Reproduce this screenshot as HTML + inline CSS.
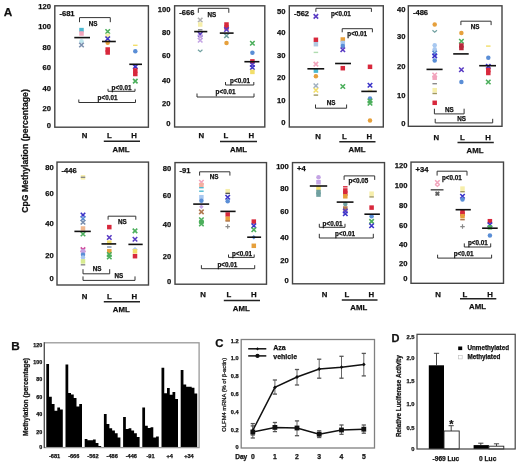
<!DOCTYPE html>
<html><head><meta charset="utf-8"><style>
html,body{margin:0;padding:0;background:#fff;}
svg{display:block;will-change:transform;}
text{font-family:"Liberation Sans", sans-serif;stroke:#111;stroke-width:0.25px;}
</style></head><body>
<svg width="520" height="466" viewBox="0 0 520 466">
<rect width="520" height="466" fill="#fff"/>
<text x="8.00" y="16.43" font-size="11.8" text-anchor="middle" font-weight="bold" fill="#111" >A</text>
<text x="0" y="0" font-size="8.7" font-weight="bold" fill="#111" text-anchor="middle" transform="translate(28.2,151.0) rotate(-90)">CpG Methylation (percentage)</text>
<text x="51.00" y="9.46" font-size="7.6" text-anchor="end" font-weight="bold" fill="#111" >120</text>
<text x="51.00" y="28.96" font-size="7.6" text-anchor="end" font-weight="bold" fill="#111" >100</text>
<text x="51.00" y="49.56" font-size="7.6" text-anchor="end" font-weight="bold" fill="#111" >80</text>
<text x="51.00" y="70.16" font-size="7.6" text-anchor="end" font-weight="bold" fill="#111" >60</text>
<text x="51.00" y="91.36" font-size="7.6" text-anchor="end" font-weight="bold" fill="#111" >40</text>
<text x="51.00" y="111.46" font-size="7.6" text-anchor="end" font-weight="bold" fill="#111" >20</text>
<text x="51.00" y="127.66" font-size="7.6" text-anchor="end" font-weight="bold" fill="#111" >0</text>
<text x="59.40" y="16.16" font-size="7.6" text-anchor="start" font-weight="bold" fill="#111" >-681</text>
<rect x="79.25" y="27.85" width="4.50" height="4.50" fill="#4cb8d0" stroke="none" stroke-width="0"/>
<rect x="79.25" y="31.25" width="4.50" height="4.50" fill="#f2a4bc" stroke="none" stroke-width="0"/>
<circle cx="81.50" cy="41.20" r="2.25" fill="#bfe6ee"/>
<path d="M79.25,42.75L83.75,47.25M83.75,42.75L79.25,47.25" stroke="#7a8fae" stroke-width="1.6"/>
<path d="M105.45,29.25L109.95,33.75M109.95,29.25L105.45,33.75" stroke="#4caf5c" stroke-width="1.6"/>
<rect x="105.45" y="33.55" width="4.50" height="4.50" fill="#f6eeaa" stroke="none" stroke-width="0"/>
<path d="M105.45,36.55L109.95,41.05M109.95,36.55L105.45,41.05" stroke="#3c34c8" stroke-width="1.6"/>
<circle cx="107.70" cy="42.70" r="2.25" fill="#e6a03c"/>
<rect x="105.45" y="47.25" width="4.50" height="4.50" fill="#d8283c" stroke="none" stroke-width="0"/>
<rect x="105.45" y="50.25" width="4.50" height="4.50" fill="#d8283c" stroke="none" stroke-width="0"/>
<rect x="133.05" y="44.60" width="4.50" height="1.40" fill="#f2de6a" stroke="none" stroke-width="0"/>
<circle cx="135.30" cy="51.20" r="2.25" fill="#5a8ed6"/>
<path d="M133.05,64.35L137.55,68.85M137.55,64.35L133.05,68.85" stroke="#3c34c8" stroke-width="1.6"/>
<rect x="133.05" y="68.25" width="4.50" height="4.50" fill="#d8283c" stroke="none" stroke-width="0"/>
<rect x="133.05" y="71.75" width="4.50" height="4.50" fill="#d8283c" stroke="none" stroke-width="0"/>
<path d="M133.05,78.85L137.55,83.35M137.55,78.85L133.05,83.35" stroke="#4caf5c" stroke-width="1.6"/>
<line x1="74.30" y1="37.60" x2="90.00" y2="37.60" stroke="#111" stroke-width="1.6"/>
<line x1="102.00" y1="41.50" x2="115.80" y2="41.50" stroke="#111" stroke-width="1.6"/>
<line x1="129.30" y1="64.30" x2="142.00" y2="64.30" stroke="#111" stroke-width="1.6"/>
<path d="M79.50,22.20 L79.50,17.60 L110.30,17.60 L110.30,22.20" fill="none" stroke="#333" stroke-width="1"/>
<text x="93.10" y="25.70" font-size="6.3" text-anchor="middle" font-weight="bold" fill="#111" >NS</text>
<path d="M108.00,88.80 L108.00,91.30 L135.00,91.30 L135.00,88.80" fill="none" stroke="#333" stroke-width="1"/>
<text x="121.50" y="89.50" font-size="6.3" text-anchor="middle" font-weight="bold" fill="#111" >p&lt;0.01</text>
<path d="M78.80,99.50 L78.80,102.50 L135.50,102.50 L135.50,99.50" fill="none" stroke="#333" stroke-width="1"/>
<text x="107.50" y="100.20" font-size="6.3" text-anchor="middle" font-weight="bold" fill="#111" >p&lt;0.01</text>
<rect x="54.80" y="5.80" width="93.60" height="121.40" fill="none" stroke="#444" stroke-width="1.4"/>
<text x="84.50" y="138.23" font-size="7.8" text-anchor="middle" font-weight="bold" fill="#111" >N</text>
<text x="109.50" y="138.23" font-size="7.8" text-anchor="middle" font-weight="bold" fill="#111" >L</text>
<text x="134.00" y="138.23" font-size="7.8" text-anchor="middle" font-weight="bold" fill="#111" >H</text>
<line x1="103.80" y1="141.20" x2="140.00" y2="141.20" stroke="#222" stroke-width="1.5"/>
<text x="121.00" y="151.53" font-size="7.8" text-anchor="middle" font-weight="bold" fill="#111" >AML</text>
<text x="170.50" y="11.96" font-size="7.6" text-anchor="end" font-weight="bold" fill="#111" >100</text>
<text x="170.50" y="34.66" font-size="7.6" text-anchor="end" font-weight="bold" fill="#111" >80</text>
<text x="170.50" y="57.66" font-size="7.6" text-anchor="end" font-weight="bold" fill="#111" >60</text>
<text x="170.50" y="82.66" font-size="7.6" text-anchor="end" font-weight="bold" fill="#111" >40</text>
<text x="170.50" y="105.96" font-size="7.6" text-anchor="end" font-weight="bold" fill="#111" >20</text>
<text x="170.50" y="126.46" font-size="7.6" text-anchor="end" font-weight="bold" fill="#111" >0</text>
<text x="179.20" y="15.16" font-size="7.6" text-anchor="start" font-weight="bold" fill="#111" >-666</text>
<path d="M197.95,17.75L202.45,22.25M202.45,17.75L197.95,22.25" stroke="#b0b0b0" stroke-width="1.6"/>
<rect x="197.95" y="22.25" width="4.50" height="4.50" fill="#f6eeaa" stroke="none" stroke-width="0"/>
<rect x="197.95" y="29.10" width="4.50" height="1.40" fill="#8a8a8a" stroke="none" stroke-width="0"/>
<path d="M197.95,32.05L202.45,36.55M202.45,32.05L197.95,36.55" stroke="#5a3cc4" stroke-width="1.6"/>
<path d="M197.95,34.55L202.45,39.05M202.45,34.55L197.95,39.05" stroke="#c4a4e4" stroke-width="1.6"/>
<path d="M197.95,38.05L202.45,42.55M202.45,38.05L197.95,42.55" stroke="#c4a4e4" stroke-width="1.6"/>
<path d="M197.95,49.80L200.20,51.80L202.45,49.80" fill="none" stroke="#70a0a0" stroke-width="1.2"/>
<rect x="224.25" y="22.25" width="4.50" height="4.50" fill="#d8283c" stroke="none" stroke-width="0"/>
<rect x="224.25" y="25.25" width="4.50" height="4.50" fill="#d8283c" stroke="none" stroke-width="0"/>
<path d="M224.25,27.25L228.75,31.75M228.75,27.25L224.25,31.75" stroke="#5a3cc4" stroke-width="1.6"/>
<path d="M224.25,33.55L228.75,38.05M228.75,33.55L224.25,38.05" stroke="#70a0a0" stroke-width="1.6"/>
<circle cx="226.50" cy="42.90" r="2.25" fill="#e6a03c"/>
<path d="M250.15,41.05L254.65,45.55M254.65,41.05L250.15,45.55" stroke="#4caf5c" stroke-width="1.6"/>
<circle cx="252.40" cy="52.80" r="2.25" fill="#5a8ed6"/>
<rect x="250.15" y="59.15" width="4.50" height="4.50" fill="#d8283c" stroke="none" stroke-width="0"/>
<path d="M250.15,62.25L254.65,66.75M254.65,62.25L250.15,66.75" stroke="#5a3cc4" stroke-width="1.6"/>
<path d="M250.15,65.25L254.65,69.75M254.65,65.25L250.15,69.75" stroke="#3c34c8" stroke-width="1.6"/>
<rect x="250.15" y="69.65" width="4.50" height="4.50" fill="#f2de6a" stroke="none" stroke-width="0"/>
<line x1="194.20" y1="31.60" x2="207.30" y2="31.60" stroke="#111" stroke-width="1.6"/>
<line x1="219.80" y1="33.10" x2="233.60" y2="33.10" stroke="#111" stroke-width="1.6"/>
<line x1="244.40" y1="61.70" x2="259.40" y2="61.70" stroke="#111" stroke-width="1.6"/>
<path d="M198.30,12.80 L198.30,8.30 L228.80,8.30 L228.80,12.80" fill="none" stroke="#333" stroke-width="1"/>
<text x="211.80" y="16.50" font-size="6.3" text-anchor="middle" font-weight="bold" fill="#111" >NS</text>
<path d="M225.50,82.00 L225.50,85.00 L253.80,85.00 L253.80,82.00" fill="none" stroke="#333" stroke-width="1"/>
<text x="240.00" y="83.00" font-size="6.3" text-anchor="middle" font-weight="bold" fill="#111" >p&lt;0.01</text>
<path d="M197.00,93.50 L197.00,97.00 L254.00,97.00 L254.00,93.50" fill="none" stroke="#333" stroke-width="1"/>
<text x="225.50" y="94.20" font-size="6.3" text-anchor="middle" font-weight="bold" fill="#111" >p&lt;0.01</text>
<rect x="174.60" y="5.80" width="90.20" height="121.20" fill="none" stroke="#444" stroke-width="1.4"/>
<text x="201.30" y="138.23" font-size="7.8" text-anchor="middle" font-weight="bold" fill="#111" >N</text>
<text x="225.80" y="138.23" font-size="7.8" text-anchor="middle" font-weight="bold" fill="#111" >L</text>
<text x="251.30" y="138.23" font-size="7.8" text-anchor="middle" font-weight="bold" fill="#111" >H</text>
<line x1="220.00" y1="141.50" x2="257.00" y2="141.50" stroke="#222" stroke-width="1.5"/>
<text x="238.50" y="151.53" font-size="7.8" text-anchor="middle" font-weight="bold" fill="#111" >AML</text>
<text x="285.50" y="13.96" font-size="7.6" text-anchor="end" font-weight="bold" fill="#111" >50</text>
<text x="285.50" y="34.66" font-size="7.6" text-anchor="end" font-weight="bold" fill="#111" >40</text>
<text x="285.50" y="57.66" font-size="7.6" text-anchor="end" font-weight="bold" fill="#111" >30</text>
<text x="285.50" y="80.46" font-size="7.6" text-anchor="end" font-weight="bold" fill="#111" >20</text>
<text x="285.50" y="103.46" font-size="7.6" text-anchor="end" font-weight="bold" fill="#111" >10</text>
<text x="285.50" y="125.16" font-size="7.6" text-anchor="end" font-weight="bold" fill="#111" >0</text>
<text x="293.90" y="16.46" font-size="7.6" text-anchor="start" font-weight="bold" fill="#111" >-562</text>
<path d="M313.65,14.15L318.15,18.65M318.15,14.15L313.65,18.65" stroke="#5a3cc4" stroke-width="1.6"/>
<rect x="313.65" y="37.55" width="4.50" height="4.50" fill="#d8283c" stroke="none" stroke-width="0"/>
<rect x="313.65" y="41.95" width="4.50" height="4.50" fill="#b0c8e0" stroke="none" stroke-width="0"/>
<rect x="313.65" y="51.70" width="4.50" height="1.40" fill="#b0dcb0" stroke="none" stroke-width="0"/>
<path d="M313.65,61.85L318.15,66.35M318.15,61.85L313.65,66.35" stroke="#f2a4bc" stroke-width="1.6"/>
<rect x="313.65" y="68.35" width="4.50" height="4.50" fill="#4cb8d0" stroke="none" stroke-width="0"/>
<circle cx="315.90" cy="76.30" r="2.25" fill="#e6a03c"/>
<path d="M313.65,83.55L318.15,88.05M318.15,83.55L313.65,88.05" stroke="#a0b0c0" stroke-width="1.6"/>
<path d="M313.65,87.95L318.15,92.45M318.15,87.95L313.65,92.45" stroke="#f2de6a" stroke-width="1.6"/>
<rect x="313.65" y="94.40" width="4.50" height="1.40" fill="#a09860" stroke="none" stroke-width="0"/>
<rect x="340.55" y="37.25" width="4.50" height="4.50" fill="#e6a03c" stroke="none" stroke-width="0"/>
<rect x="340.55" y="40.75" width="4.50" height="4.50" fill="#a8c8f0" stroke="none" stroke-width="0"/>
<circle cx="342.80" cy="46.00" r="2.25" fill="#5a8ed6"/>
<path d="M340.55,47.55L345.05,52.05M345.05,47.55L340.55,52.05" stroke="#5a3cc4" stroke-width="1.6"/>
<rect x="340.55" y="65.95" width="4.50" height="4.50" fill="#d8283c" stroke="none" stroke-width="0"/>
<path d="M340.55,84.25L345.05,88.75M345.05,84.25L340.55,88.75" stroke="#4caf5c" stroke-width="1.6"/>
<rect x="367.75" y="64.55" width="4.50" height="4.50" fill="#d8283c" stroke="none" stroke-width="0"/>
<path d="M367.75,83.05L372.25,87.55M372.25,83.05L367.75,87.55" stroke="#3c34c8" stroke-width="1.6"/>
<rect x="367.75" y="89.50" width="4.50" height="1.40" fill="#f6eeaa" stroke="none" stroke-width="0"/>
<circle cx="370.00" cy="98.40" r="2.25" fill="#5a8ed6"/>
<path d="M367.75,98.75L372.25,103.25M372.25,98.75L367.75,103.25" stroke="#4caf5c" stroke-width="1.6"/>
<path d="M367.75,101.05L372.25,105.55M372.25,101.05L367.75,105.55" stroke="#4caf5c" stroke-width="1.6"/>
<circle cx="370.00" cy="120.50" r="2.25" fill="#e6a03c"/>
<line x1="307.40" y1="68.80" x2="324.20" y2="68.80" stroke="#111" stroke-width="1.6"/>
<line x1="335.10" y1="63.50" x2="351.00" y2="63.50" stroke="#111" stroke-width="1.6"/>
<line x1="361.30" y1="91.40" x2="376.80" y2="91.40" stroke="#111" stroke-width="1.6"/>
<path d="M315.90,11.90 L315.90,8.30 L371.40,8.30 L371.40,11.90" fill="none" stroke="#333" stroke-width="1"/>
<text x="340.90" y="16.20" font-size="6.3" text-anchor="middle" font-weight="bold" fill="#111" >p&lt;0.01</text>
<path d="M342.20,32.30 L342.20,28.70 L372.40,28.70 L372.40,32.30" fill="none" stroke="#333" stroke-width="1"/>
<text x="357.20" y="35.80" font-size="6.3" text-anchor="middle" font-weight="bold" fill="#111" >p&lt;0.01</text>
<path d="M315.50,104.50 L315.50,108.20 L346.60,108.20 L346.60,104.50" fill="none" stroke="#333" stroke-width="1"/>
<text x="331.10" y="105.00" font-size="6.3" text-anchor="middle" font-weight="bold" fill="#111" >NS</text>
<rect x="289.30" y="5.80" width="94.00" height="121.20" fill="none" stroke="#444" stroke-width="1.4"/>
<text x="318.00" y="139.43" font-size="7.8" text-anchor="middle" font-weight="bold" fill="#111" >N</text>
<text x="344.30" y="139.43" font-size="7.8" text-anchor="middle" font-weight="bold" fill="#111" >L</text>
<text x="369.30" y="139.43" font-size="7.8" text-anchor="middle" font-weight="bold" fill="#111" >H</text>
<line x1="339.30" y1="141.80" x2="375.50" y2="141.80" stroke="#222" stroke-width="1.5"/>
<text x="357.00" y="151.53" font-size="7.8" text-anchor="middle" font-weight="bold" fill="#111" >AML</text>
<text x="405.50" y="12.16" font-size="7.6" text-anchor="end" font-weight="bold" fill="#111" >40</text>
<text x="405.50" y="38.96" font-size="7.6" text-anchor="end" font-weight="bold" fill="#111" >30</text>
<text x="405.50" y="69.16" font-size="7.6" text-anchor="end" font-weight="bold" fill="#111" >20</text>
<text x="405.50" y="98.46" font-size="7.6" text-anchor="end" font-weight="bold" fill="#111" >10</text>
<text x="405.50" y="126.46" font-size="7.6" text-anchor="end" font-weight="bold" fill="#111" >0</text>
<text x="412.90" y="15.16" font-size="7.6" text-anchor="start" font-weight="bold" fill="#111" >-486</text>
<circle cx="434.70" cy="24.50" r="2.25" fill="#e6a03c"/>
<path d="M432.45,30.30L434.70,32.30L436.95,30.30" fill="none" stroke="#70a0a0" stroke-width="1.2"/>
<circle cx="434.70" cy="45.20" r="2.25" fill="#a8c8f0"/>
<circle cx="434.70" cy="49.30" r="2.25" fill="#a8c8f0"/>
<path d="M432.45,50.75L436.95,55.25M436.95,50.75L432.45,55.25" stroke="#5a8ed6" stroke-width="1.6"/>
<path d="M432.45,53.65L436.95,58.15M436.95,53.65L432.45,58.15" stroke="#3c34c8" stroke-width="1.6"/>
<circle cx="434.70" cy="60.40" r="2.25" fill="#5a8ed6"/>
<path d="M432.45,72.75L436.95,77.25M436.95,72.75L432.45,77.25" stroke="#f2a4bc" stroke-width="1.6"/>
<rect x="432.45" y="75.45" width="4.50" height="4.50" fill="#f2a4bc" stroke="none" stroke-width="0"/>
<rect x="432.45" y="83.00" width="4.50" height="1.40" fill="#8a8a8a" stroke="none" stroke-width="0"/>
<rect x="432.45" y="87.95" width="4.50" height="4.50" fill="#f6eeaa" stroke="none" stroke-width="0"/>
<rect x="432.45" y="92.80" width="4.50" height="1.40" fill="#a09860" stroke="none" stroke-width="0"/>
<rect x="432.45" y="100.55" width="4.50" height="4.50" fill="#d8283c" stroke="none" stroke-width="0"/>
<circle cx="461.40" cy="33.00" r="2.25" fill="#e6a03c"/>
<path d="M459.15,38.95L463.65,43.45M463.65,38.95L459.15,43.45" stroke="#4caf5c" stroke-width="1.6"/>
<rect x="459.15" y="43.25" width="4.50" height="4.50" fill="#b8283c" stroke="none" stroke-width="0"/>
<rect x="459.15" y="45.75" width="4.50" height="4.50" fill="#b8283c" stroke="none" stroke-width="0"/>
<path d="M459.15,67.55L463.65,72.05M463.65,67.55L459.15,72.05" stroke="#5a3cc4" stroke-width="1.6"/>
<circle cx="461.40" cy="82.00" r="2.25" fill="#5a8ed6"/>
<rect x="486.05" y="45.40" width="4.50" height="1.40" fill="#f2de6a" stroke="none" stroke-width="0"/>
<circle cx="488.30" cy="57.80" r="2.25" fill="#5a8ed6"/>
<path d="M486.05,64.15L490.55,68.65M490.55,64.15L486.05,68.65" stroke="#3c34c8" stroke-width="1.6"/>
<rect x="486.05" y="67.75" width="4.50" height="4.50" fill="#d8283c" stroke="none" stroke-width="0"/>
<rect x="486.05" y="70.75" width="4.50" height="4.50" fill="#d8283c" stroke="none" stroke-width="0"/>
<path d="M486.05,79.75L490.55,84.25M490.55,79.75L486.05,84.25" stroke="#4caf5c" stroke-width="1.6"/>
<line x1="426.50" y1="69.40" x2="442.60" y2="69.40" stroke="#111" stroke-width="1.6"/>
<line x1="453.20" y1="53.90" x2="468.70" y2="53.90" stroke="#111" stroke-width="1.6"/>
<line x1="479.20" y1="65.70" x2="496.00" y2="65.70" stroke="#111" stroke-width="1.6"/>
<path d="M460.90,25.10 L460.90,21.20 L491.10,21.20 L491.10,25.10" fill="none" stroke="#333" stroke-width="1"/>
<text x="475.20" y="29.00" font-size="6.3" text-anchor="middle" font-weight="bold" fill="#111" >NS</text>
<path d="M434.40,108.70 L434.40,113.90 L464.10,113.90 L464.10,108.70" fill="none" stroke="#333" stroke-width="1"/>
<text x="449.40" y="111.61" font-size="6.3" text-anchor="middle" font-weight="bold" fill="#111" >NS</text>
<path d="M435.20,118.80 L435.20,122.90 L492.70,122.90 L492.70,118.80" fill="none" stroke="#333" stroke-width="1"/>
<text x="461.70" y="120.70" font-size="6.3" text-anchor="middle" font-weight="bold" fill="#111" >NS</text>
<rect x="408.30" y="5.80" width="93.70" height="120.50" fill="none" stroke="#444" stroke-width="1.4"/>
<text x="436.30" y="140.23" font-size="7.8" text-anchor="middle" font-weight="bold" fill="#111" >N</text>
<text x="462.50" y="140.23" font-size="7.8" text-anchor="middle" font-weight="bold" fill="#111" >L</text>
<text x="488.00" y="140.23" font-size="7.8" text-anchor="middle" font-weight="bold" fill="#111" >H</text>
<line x1="457.50" y1="142.50" x2="493.80" y2="142.50" stroke="#222" stroke-width="1.5"/>
<text x="475.00" y="152.73" font-size="7.8" text-anchor="middle" font-weight="bold" fill="#111" >AML</text>
<text x="53.80" y="169.66" font-size="7.6" text-anchor="end" font-weight="bold" fill="#111" >80</text>
<text x="53.80" y="196.46" font-size="7.6" text-anchor="end" font-weight="bold" fill="#111" >60</text>
<text x="53.80" y="226.46" font-size="7.6" text-anchor="end" font-weight="bold" fill="#111" >40</text>
<text x="53.80" y="257.66" font-size="7.6" text-anchor="end" font-weight="bold" fill="#111" >20</text>
<text x="53.80" y="281.46" font-size="7.6" text-anchor="end" font-weight="bold" fill="#111" >0</text>
<text x="61.60" y="172.66" font-size="7.6" text-anchor="start" font-weight="bold" fill="#111" >-446</text>
<rect x="80.75" y="175.05" width="4.50" height="4.50" fill="#f6eeaa" stroke="none" stroke-width="0"/>
<rect x="80.75" y="176.60" width="4.50" height="1.40" fill="#8a8a8a" stroke="none" stroke-width="0"/>
<path d="M80.75,212.75L85.25,217.25M85.25,212.75L80.75,217.25" stroke="#3c34c8" stroke-width="1.6"/>
<path d="M80.75,216.45L85.25,220.95M85.25,216.45L80.75,220.95" stroke="#5a8ed6" stroke-width="1.6"/>
<path d="M80.75,220.05L85.25,224.55M85.25,220.05L80.75,224.55" stroke="#7a8fae" stroke-width="1.6"/>
<rect x="80.75" y="226.25" width="4.50" height="4.50" fill="#f0b890" stroke="none" stroke-width="0"/>
<path d="M80.75,231.75L85.25,236.25M85.25,231.75L80.75,236.25" stroke="#4caf5c" stroke-width="1.6"/>
<path d="M80.75,247.35L85.25,251.85M85.25,247.35L80.75,251.85" stroke="#d050a0" stroke-width="1.6"/>
<rect x="80.75" y="249.25" width="4.50" height="4.50" fill="#c4a4e4" stroke="none" stroke-width="0"/>
<circle cx="83.00" cy="254.80" r="2.25" fill="#5a8ed6"/>
<circle cx="83.00" cy="257.40" r="2.25" fill="#a8c8f0"/>
<rect x="80.75" y="259.15" width="4.50" height="4.50" fill="#d8ec90" stroke="none" stroke-width="0"/>
<rect x="80.75" y="264.10" width="4.50" height="1.40" fill="#8a8a8a" stroke="none" stroke-width="0"/>
<rect x="107.05" y="224.85" width="4.50" height="4.50" fill="#d8283c" stroke="none" stroke-width="0"/>
<path d="M107.05,235.25L111.55,239.75M111.55,235.25L107.05,239.75" stroke="#5a3cc4" stroke-width="1.6"/>
<rect x="107.05" y="240.45" width="4.50" height="4.50" fill="#f2de6a" stroke="none" stroke-width="0"/>
<rect x="107.05" y="246.30" width="4.50" height="1.40" fill="#7a8fae" stroke="none" stroke-width="0"/>
<rect x="107.05" y="249.05" width="4.50" height="4.50" fill="#e6a03c" stroke="none" stroke-width="0"/>
<path d="M107.05,252.25L111.55,256.75M111.55,252.25L107.05,256.75" stroke="#4caf5c" stroke-width="1.6"/>
<path d="M107.05,254.75L111.55,259.25M111.55,254.75L107.05,259.25" stroke="#4caf5c" stroke-width="1.6"/>
<path d="M132.75,228.65L137.25,233.15M137.25,228.65L132.75,233.15" stroke="#4caf5c" stroke-width="1.6"/>
<path d="M132.75,236.95L137.25,241.45M137.25,236.95L132.75,241.45" stroke="#5a3cc4" stroke-width="1.6"/>
<path d="M132.75,249.70L135.00,247.70L137.25,249.70" fill="none" stroke="#a8c8f0" stroke-width="1.2"/>
<rect x="132.75" y="249.05" width="4.50" height="4.50" fill="#f2de6a" stroke="none" stroke-width="0"/>
<rect x="132.75" y="253.95" width="4.50" height="4.50" fill="#d8283c" stroke="none" stroke-width="0"/>
<line x1="74.40" y1="231.40" x2="90.80" y2="231.40" stroke="#111" stroke-width="1.6"/>
<line x1="101.50" y1="243.90" x2="116.20" y2="243.90" stroke="#111" stroke-width="1.6"/>
<line x1="128.40" y1="244.40" x2="142.70" y2="244.40" stroke="#111" stroke-width="1.6"/>
<path d="M108.10,219.70 L108.10,216.20 L135.80,216.20 L135.80,219.70" fill="none" stroke="#333" stroke-width="1"/>
<text x="122.30" y="223.61" font-size="6.3" text-anchor="middle" font-weight="bold" fill="#111" >NS</text>
<path d="M83.00,269.20 L83.00,273.80 L109.70,273.80 L109.70,269.20" fill="none" stroke="#333" stroke-width="1"/>
<text x="97.20" y="270.90" font-size="6.3" text-anchor="middle" font-weight="bold" fill="#111" >NS</text>
<path d="M83.00,276.40 L83.00,280.40 L135.00,280.40 L135.00,276.40" fill="none" stroke="#333" stroke-width="1"/>
<text x="118.80" y="278.10" font-size="6.3" text-anchor="middle" font-weight="bold" fill="#111" >NS</text>
<rect x="57.00" y="162.10" width="91.50" height="122.90" fill="none" stroke="#444" stroke-width="1.4"/>
<text x="84.50" y="298.53" font-size="7.8" text-anchor="middle" font-weight="bold" fill="#111" >N</text>
<text x="109.50" y="298.53" font-size="7.8" text-anchor="middle" font-weight="bold" fill="#111" >L</text>
<text x="134.30" y="298.53" font-size="7.8" text-anchor="middle" font-weight="bold" fill="#111" >H</text>
<line x1="103.80" y1="301.80" x2="140.00" y2="301.80" stroke="#222" stroke-width="1.5"/>
<text x="121.30" y="312.03" font-size="7.8" text-anchor="middle" font-weight="bold" fill="#111" >AML</text>
<text x="171.30" y="170.66" font-size="7.6" text-anchor="end" font-weight="bold" fill="#111" >80</text>
<text x="171.30" y="197.66" font-size="7.6" text-anchor="end" font-weight="bold" fill="#111" >60</text>
<text x="171.30" y="227.16" font-size="7.6" text-anchor="end" font-weight="bold" fill="#111" >40</text>
<text x="171.30" y="258.96" font-size="7.6" text-anchor="end" font-weight="bold" fill="#111" >20</text>
<text x="171.30" y="283.96" font-size="7.6" text-anchor="end" font-weight="bold" fill="#111" >0</text>
<text x="179.60" y="173.36" font-size="7.6" text-anchor="start" font-weight="bold" fill="#111" >-91</text>
<path d="M199.15,179.95L203.65,184.45M203.65,179.95L199.15,184.45" stroke="#f2a4bc" stroke-width="1.6"/>
<rect x="199.15" y="182.85" width="4.50" height="4.50" fill="#f4b0a0" stroke="none" stroke-width="0"/>
<rect x="199.15" y="187.00" width="4.50" height="1.40" fill="#4cb8d0" stroke="none" stroke-width="0"/>
<rect x="199.15" y="190.50" width="4.50" height="1.40" fill="#4cb8d0" stroke="none" stroke-width="0"/>
<rect x="199.15" y="194.95" width="4.50" height="4.50" fill="#a8c8f0" stroke="none" stroke-width="0"/>
<circle cx="201.40" cy="200.70" r="2.25" fill="#5a8ed6"/>
<path d="M201.40,204.45L203.65,206.70L201.40,208.95L199.15,206.70Z" fill="#c4a4e4"/>
<path d="M199.15,209.65L203.65,214.15M203.65,209.65L199.15,214.15" stroke="#b07850" stroke-width="1.6"/>
<path d="M199.15,217.45L203.65,221.95M203.65,217.45L199.15,221.95" stroke="#4caf5c" stroke-width="1.6"/>
<rect x="199.15" y="219.75" width="4.50" height="4.50" fill="#4caf5c" stroke="none" stroke-width="0"/>
<path d="M199.15,221.75L203.65,226.25M203.65,221.75L199.15,226.25" stroke="#4caf5c" stroke-width="1.6"/>
<rect x="225.45" y="188.95" width="4.50" height="4.50" fill="#f6eeaa" stroke="none" stroke-width="0"/>
<rect x="225.45" y="192.70" width="4.50" height="1.40" fill="#555" stroke="none" stroke-width="0"/>
<path d="M225.45,194.95L229.95,199.45M229.95,194.95L225.45,199.45" stroke="#3c34c8" stroke-width="1.6"/>
<circle cx="227.70" cy="201.20" r="2.25" fill="#5a8ed6"/>
<rect x="225.45" y="212.25" width="4.50" height="4.50" fill="#d8283c" stroke="none" stroke-width="0"/>
<rect x="225.45" y="216.55" width="4.50" height="4.50" fill="#e6a03c" stroke="none" stroke-width="0"/>
<rect x="225.45" y="220.30" width="4.50" height="1.40" fill="#b07850" stroke="none" stroke-width="0"/>
<path d="M225.45,226.60L229.95,226.60M227.70,224.35L227.70,228.85" stroke="#8a8a8a" stroke-width="1.2"/>
<rect x="251.55" y="219.35" width="4.50" height="4.50" fill="#d8283c" stroke="none" stroke-width="0"/>
<path d="M251.55,223.45L256.05,227.95M256.05,223.45L251.55,227.95" stroke="#3c34c8" stroke-width="1.6"/>
<path d="M251.55,227.45L256.05,231.95M256.05,227.45L251.55,231.95" stroke="#4caf5c" stroke-width="1.6"/>
<path d="M253.80,234.95L256.05,237.20L253.80,239.45L251.55,237.20Z" fill="#5a8ed6"/>
<rect x="251.55" y="243.55" width="4.50" height="4.50" fill="#e6a03c" stroke="none" stroke-width="0"/>
<line x1="193.20" y1="204.10" x2="209.20" y2="204.10" stroke="#111" stroke-width="1.6"/>
<line x1="220.40" y1="211.40" x2="235.60" y2="211.40" stroke="#111" stroke-width="1.6"/>
<line x1="247.20" y1="237.20" x2="261.10" y2="237.20" stroke="#111" stroke-width="1.6"/>
<path d="M199.60,175.60 L199.60,171.80 L229.90,171.80 L229.90,175.60" fill="none" stroke="#333" stroke-width="1"/>
<text x="214.00" y="179.21" font-size="6.3" text-anchor="middle" font-weight="bold" fill="#111" >NS</text>
<path d="M228.50,254.50 L228.50,257.40 L254.20,257.40 L254.20,254.50" fill="none" stroke="#333" stroke-width="1"/>
<text x="242.00" y="256.11" font-size="6.3" text-anchor="middle" font-weight="bold" fill="#111" >p&lt;0.01</text>
<path d="M201.40,265.20 L201.40,268.70 L254.70,268.70 L254.70,265.20" fill="none" stroke="#333" stroke-width="1"/>
<text x="227.30" y="266.50" font-size="6.3" text-anchor="middle" font-weight="bold" fill="#111" >p&lt;0.01</text>
<rect x="175.00" y="162.60" width="91.50" height="121.60" fill="none" stroke="#444" stroke-width="1.4"/>
<text x="203.00" y="297.23" font-size="7.8" text-anchor="middle" font-weight="bold" fill="#111" >N</text>
<text x="228.80" y="297.23" font-size="7.8" text-anchor="middle" font-weight="bold" fill="#111" >L</text>
<text x="253.80" y="297.23" font-size="7.8" text-anchor="middle" font-weight="bold" fill="#111" >H</text>
<line x1="223.80" y1="300.50" x2="260.00" y2="300.50" stroke="#222" stroke-width="1.5"/>
<text x="241.30" y="310.73" font-size="7.8" text-anchor="middle" font-weight="bold" fill="#111" >AML</text>
<text x="288.80" y="168.96" font-size="7.6" text-anchor="end" font-weight="bold" fill="#111" >100</text>
<text x="288.80" y="191.46" font-size="7.6" text-anchor="end" font-weight="bold" fill="#111" >80</text>
<text x="288.80" y="213.96" font-size="7.6" text-anchor="end" font-weight="bold" fill="#111" >60</text>
<text x="288.80" y="240.16" font-size="7.6" text-anchor="end" font-weight="bold" fill="#111" >40</text>
<text x="288.80" y="263.46" font-size="7.6" text-anchor="end" font-weight="bold" fill="#111" >20</text>
<text x="288.80" y="283.46" font-size="7.6" text-anchor="end" font-weight="bold" fill="#111" >0</text>
<text x="297.10" y="171.36" font-size="7.6" text-anchor="start" font-weight="bold" fill="#111" >+4</text>
<circle cx="318.50" cy="177.30" r="2.25" fill="#c4a4e4"/>
<rect x="316.25" y="179.95" width="4.50" height="4.50" fill="#c4a4e4" stroke="none" stroke-width="0"/>
<rect x="316.25" y="185.95" width="4.50" height="4.50" fill="#f2de6a" stroke="none" stroke-width="0"/>
<rect x="316.25" y="189.75" width="4.50" height="4.50" fill="#70a0a0" stroke="none" stroke-width="0"/>
<rect x="316.25" y="192.35" width="4.50" height="4.50" fill="#70a0a0" stroke="none" stroke-width="0"/>
<rect x="343.05" y="186.10" width="4.50" height="1.40" fill="#d8283c" stroke="none" stroke-width="0"/>
<rect x="343.05" y="188.25" width="4.50" height="4.50" fill="#d8283c" stroke="none" stroke-width="0"/>
<rect x="343.05" y="191.25" width="4.50" height="4.50" fill="#d8283c" stroke="none" stroke-width="0"/>
<rect x="343.05" y="194.05" width="4.50" height="4.50" fill="#e6a03c" stroke="none" stroke-width="0"/>
<circle cx="345.30" cy="204.10" r="2.25" fill="#70a0a0"/>
<rect x="343.05" y="206.25" width="4.50" height="4.50" fill="#b07850" stroke="none" stroke-width="0"/>
<path d="M343.05,208.75L347.55,213.25M347.55,208.75L343.05,213.25" stroke="#5a3cc4" stroke-width="1.6"/>
<path d="M343.05,211.45L347.55,215.95M347.55,211.45L343.05,215.95" stroke="#3c34c8" stroke-width="1.6"/>
<rect x="369.35" y="191.45" width="4.50" height="4.50" fill="#f6eeaa" stroke="none" stroke-width="0"/>
<rect x="369.35" y="196.20" width="4.50" height="1.40" fill="#a09860" stroke="none" stroke-width="0"/>
<rect x="369.35" y="205.35" width="4.50" height="4.50" fill="#d8283c" stroke="none" stroke-width="0"/>
<circle cx="371.60" cy="216.20" r="2.25" fill="#5a8ed6"/>
<path d="M369.35,219.15L373.85,223.65M373.85,219.15L369.35,223.65" stroke="#4caf5c" stroke-width="1.6"/>
<path d="M369.35,223.55L373.85,228.05M373.85,223.55L369.35,228.05" stroke="#3c34c8" stroke-width="1.6"/>
<line x1="309.80" y1="186.00" x2="327.20" y2="186.00" stroke="#111" stroke-width="1.6"/>
<line x1="336.70" y1="202.10" x2="353.50" y2="202.10" stroke="#111" stroke-width="1.6"/>
<line x1="364.40" y1="214.20" x2="379.90" y2="214.20" stroke="#111" stroke-width="1.6"/>
<path d="M344.10,179.90 L344.10,175.90 L374.70,175.90 L374.70,179.90" fill="none" stroke="#333" stroke-width="1"/>
<text x="358.30" y="183.01" font-size="6.3" text-anchor="middle" font-weight="bold" fill="#111" >p&lt;0.05</text>
<path d="M319.30,223.80 L319.30,227.30 L345.00,227.30 L345.00,223.80" fill="none" stroke="#333" stroke-width="1"/>
<text x="332.50" y="225.51" font-size="6.3" text-anchor="middle" font-weight="bold" fill="#111" >p&lt;0.01</text>
<path d="M319.30,233.80 L319.30,238.00 L373.30,238.00 L373.30,233.80" fill="none" stroke="#333" stroke-width="1"/>
<text x="345.00" y="236.01" font-size="6.3" text-anchor="middle" font-weight="bold" fill="#111" >p&lt;0.01</text>
<rect x="292.50" y="162.60" width="92.00" height="121.20" fill="none" stroke="#444" stroke-width="1.4"/>
<text x="324.50" y="297.03" font-size="7.8" text-anchor="middle" font-weight="bold" fill="#111" >N</text>
<text x="347.00" y="297.03" font-size="7.8" text-anchor="middle" font-weight="bold" fill="#111" >L</text>
<text x="371.30" y="297.03" font-size="7.8" text-anchor="middle" font-weight="bold" fill="#111" >H</text>
<line x1="341.80" y1="300.00" x2="377.50" y2="300.00" stroke="#222" stroke-width="1.5"/>
<text x="358.80" y="310.23" font-size="7.8" text-anchor="middle" font-weight="bold" fill="#111" >AML</text>
<text x="407.50" y="168.16" font-size="7.6" text-anchor="end" font-weight="bold" fill="#111" >120</text>
<text x="407.50" y="188.16" font-size="7.6" text-anchor="end" font-weight="bold" fill="#111" >100</text>
<text x="407.50" y="207.66" font-size="7.6" text-anchor="end" font-weight="bold" fill="#111" >80</text>
<text x="407.50" y="227.66" font-size="7.6" text-anchor="end" font-weight="bold" fill="#111" >60</text>
<text x="407.50" y="246.96" font-size="7.6" text-anchor="end" font-weight="bold" fill="#111" >40</text>
<text x="407.50" y="266.46" font-size="7.6" text-anchor="end" font-weight="bold" fill="#111" >20</text>
<text x="407.50" y="281.46" font-size="7.6" text-anchor="end" font-weight="bold" fill="#111" >0</text>
<text x="415.60" y="172.16" font-size="7.6" text-anchor="start" font-weight="bold" fill="#111" >+34</text>
<path d="M435.15,180.25L439.65,184.75M439.65,180.25L435.15,184.75" stroke="#f2a4bc" stroke-width="1.6"/>
<path d="M435.15,184.50L437.40,186.50L439.65,184.50" fill="none" stroke="#f2a4bc" stroke-width="1.2"/>
<rect x="435.60" y="191.90" width="3.60" height="3.60" fill="#9a9a9a" stroke="none" stroke-width="0"/>
<path d="M435.60,191.90L439.20,195.50M439.20,191.90L435.60,195.50" stroke="#606060" stroke-width="1.6"/>
<rect x="460.25" y="186.35" width="4.50" height="4.50" fill="#f6eeaa" stroke="none" stroke-width="0"/>
<rect x="460.25" y="191.00" width="4.50" height="1.40" fill="#a09860" stroke="none" stroke-width="0"/>
<path d="M460.25,194.05L464.75,198.55M464.75,194.05L460.25,198.55" stroke="#3c34c8" stroke-width="1.6"/>
<circle cx="462.50" cy="199.50" r="2.25" fill="#5a8ed6"/>
<rect x="460.25" y="209.65" width="4.50" height="4.50" fill="#d8283c" stroke="none" stroke-width="0"/>
<rect x="460.25" y="211.75" width="4.50" height="4.50" fill="#d8283c" stroke="none" stroke-width="0"/>
<rect x="460.25" y="213.95" width="4.50" height="4.50" fill="#e6a03c" stroke="none" stroke-width="0"/>
<rect x="460.25" y="219.00" width="4.50" height="1.40" fill="#b07850" stroke="none" stroke-width="0"/>
<path d="M460.25,226.60L464.75,226.60M462.50,224.35L462.50,228.85" stroke="#8a8a8a" stroke-width="1.2"/>
<rect x="487.65" y="218.95" width="4.50" height="4.50" fill="#d8283c" stroke="none" stroke-width="0"/>
<path d="M487.65,222.45L492.15,226.95M492.15,222.45L487.65,226.95" stroke="#3c34c8" stroke-width="1.6"/>
<rect x="487.65" y="225.05" width="4.50" height="4.50" fill="#4caf5c" stroke="none" stroke-width="0"/>
<circle cx="489.90" cy="235.60" r="2.25" fill="#5a8ed6"/>
<line x1="430.70" y1="189.80" x2="443.50" y2="189.80" stroke="#555" stroke-width="1.5"/>
<line x1="455.60" y1="209.70" x2="470.80" y2="209.70" stroke="#111" stroke-width="1.6"/>
<line x1="482.10" y1="228.20" x2="497.70" y2="228.20" stroke="#111" stroke-width="1.6"/>
<path d="M437.10,175.60 L437.10,171.20 L467.00,171.20 L467.00,175.60" fill="none" stroke="#333" stroke-width="1"/>
<text x="451.80" y="179.51" font-size="6.3" text-anchor="middle" font-weight="bold" fill="#111" >p&lt;0.01</text>
<path d="M464.30,243.40 L464.30,247.00 L490.70,247.00 L490.70,243.40" fill="none" stroke="#333" stroke-width="1"/>
<text x="477.80" y="245.21" font-size="6.3" text-anchor="middle" font-weight="bold" fill="#111" >p&lt;0.01</text>
<path d="M437.60,254.70 L437.60,258.10 L491.60,258.10 L491.60,254.70" fill="none" stroke="#333" stroke-width="1"/>
<text x="463.60" y="256.31" font-size="6.3" text-anchor="middle" font-weight="bold" fill="#111" >p&lt;0.01</text>
<rect x="411.00" y="162.10" width="92.50" height="121.20" fill="none" stroke="#444" stroke-width="1.4"/>
<text x="438.00" y="296.53" font-size="7.8" text-anchor="middle" font-weight="bold" fill="#111" >N</text>
<text x="465.00" y="296.53" font-size="7.8" text-anchor="middle" font-weight="bold" fill="#111" >L</text>
<text x="490.00" y="296.53" font-size="7.8" text-anchor="middle" font-weight="bold" fill="#111" >H</text>
<line x1="460.00" y1="298.80" x2="496.30" y2="298.80" stroke="#222" stroke-width="1.5"/>
<text x="477.50" y="309.03" font-size="7.8" text-anchor="middle" font-weight="bold" fill="#111" >AML</text>
<text x="15.50" y="349.73" font-size="11.8" text-anchor="middle" font-weight="bold" fill="#111" >B</text>
<text x="0" y="0" font-size="6.6" font-weight="bold" fill="#111" text-anchor="middle" transform="translate(28.3,397) rotate(-90)">Methylation (percentage)</text>
<text x="42.20" y="346.89" font-size="5.4" text-anchor="end" font-weight="bold" fill="#111" >120</text>
<text x="42.20" y="364.09" font-size="5.4" text-anchor="end" font-weight="bold" fill="#111" >100</text>
<text x="42.20" y="381.39" font-size="5.4" text-anchor="end" font-weight="bold" fill="#111" >80</text>
<text x="42.20" y="398.69" font-size="5.4" text-anchor="end" font-weight="bold" fill="#111" >60</text>
<text x="42.20" y="416.39" font-size="5.4" text-anchor="end" font-weight="bold" fill="#111" >40</text>
<text x="42.20" y="433.69" font-size="5.4" text-anchor="end" font-weight="bold" fill="#111" >20</text>
<text x="42.20" y="448.89" font-size="5.4" text-anchor="end" font-weight="bold" fill="#111" >0</text>
<path d="M46.30,447.3 L46.30,364.00 L49.05,364.00 L49.05,396.80 L51.80,396.80 L51.80,403.90 L54.55,403.90 L54.55,410.70 L57.30,410.70 L57.30,407.50 L60.05,407.50 L60.05,409.60 L62.80,409.60 L62.80,447.3 Z" fill="#000"/>
<text x="54.55" y="458.16" font-size="5.6" text-anchor="middle" font-weight="bold" fill="#111" >-681</text>
<path d="M65.50,447.3 L65.50,364.60 L68.25,364.60 L68.25,393.10 L71.00,393.10 L71.00,394.60 L73.75,394.60 L73.75,397.90 L76.50,397.90 L76.50,406.40 L79.25,406.40 L79.25,403.90 L82.00,403.90 L82.00,447.3 Z" fill="#000"/>
<text x="73.75" y="458.16" font-size="5.6" text-anchor="middle" font-weight="bold" fill="#111" >-666</text>
<path d="M84.70,447.3 L84.70,439.00 L87.45,439.00 L87.45,440.30 L90.20,440.30 L90.20,440.30 L92.95,440.30 L92.95,439.60 L95.70,439.60 L95.70,442.90 L98.45,442.90 L98.45,446.00 L101.20,446.00 L101.20,447.3 Z" fill="#000"/>
<text x="92.95" y="458.16" font-size="5.6" text-anchor="middle" font-weight="bold" fill="#111" >-562</text>
<path d="M103.90,447.3 L103.90,413.90 L106.65,413.90 L106.65,424.00 L109.40,424.00 L109.40,428.30 L112.15,428.30 L112.15,430.40 L114.90,430.40 L114.90,433.20 L117.65,433.20 L117.65,437.50 L120.40,437.50 L120.40,447.3 Z" fill="#000"/>
<text x="112.15" y="458.16" font-size="5.6" text-anchor="middle" font-weight="bold" fill="#111" >-486</text>
<path d="M123.10,447.3 L123.10,417.10 L125.85,417.10 L125.85,428.90 L128.60,428.90 L128.60,428.30 L131.35,428.30 L131.35,430.40 L134.10,430.40 L134.10,433.20 L136.85,433.20 L136.85,437.10 L139.60,437.10 L139.60,447.3 Z" fill="#000"/>
<text x="131.35" y="458.16" font-size="5.6" text-anchor="middle" font-weight="bold" fill="#111" >-446</text>
<path d="M142.30,447.3 L142.30,407.50 L145.05,407.50 L145.05,425.70 L147.80,425.70 L147.80,427.90 L150.55,427.90 L150.55,427.20 L153.30,427.20 L153.30,437.50 L156.05,437.50 L156.05,436.40 L158.80,436.40 L158.80,447.3 Z" fill="#000"/>
<text x="150.55" y="458.16" font-size="5.6" text-anchor="middle" font-weight="bold" fill="#111" >-91</text>
<path d="M161.50,447.3 L161.50,367.80 L164.25,367.80 L164.25,393.30 L167.00,393.30 L167.00,388.10 L169.75,388.10 L169.75,394.80 L172.50,394.80 L172.50,392.00 L175.25,392.00 L175.25,399.00 L178.00,399.00 L178.00,447.3 Z" fill="#000"/>
<text x="169.75" y="458.16" font-size="5.6" text-anchor="middle" font-weight="bold" fill="#111" >+4</text>
<path d="M180.70,447.3 L180.70,369.90 L183.45,369.90 L183.45,384.40 L186.20,384.40 L186.20,386.70 L188.95,386.70 L188.95,386.70 L191.70,386.70 L191.70,387.80 L194.45,387.80 L194.45,393.60 L197.20,393.60 L197.20,447.3 Z" fill="#000"/>
<text x="188.95" y="458.16" font-size="5.6" text-anchor="middle" font-weight="bold" fill="#111" >+34</text>
<rect x="44.30" y="342.80" width="154.80" height="104.80" fill="none" stroke="#999" stroke-width="1.3"/>
<line x1="44.30" y1="342.20" x2="44.30" y2="448.00" stroke="#444" stroke-width="1.0"/>
<text x="219.30" y="346.99" font-size="11.4" text-anchor="middle" font-weight="bold" fill="#111" >C</text>
<text x="0" y="0" font-size="5.8" fill="#111" text-anchor="middle" transform="translate(225.9,394.7) rotate(-90)">OLFM4 mRNA (% of β-actin)</text>
<text x="238.60" y="343.16" font-size="5.6" text-anchor="end" font-weight="bold" fill="#111" >1.2</text>
<text x="238.60" y="359.86" font-size="5.6" text-anchor="end" font-weight="bold" fill="#111" >1.0</text>
<text x="238.60" y="377.86" font-size="5.6" text-anchor="end" font-weight="bold" fill="#111" >0.8</text>
<text x="238.60" y="396.06" font-size="5.6" text-anchor="end" font-weight="bold" fill="#111" >0.6</text>
<text x="238.60" y="413.76" font-size="5.6" text-anchor="end" font-weight="bold" fill="#111" >0.4</text>
<text x="238.60" y="432.46" font-size="5.6" text-anchor="end" font-weight="bold" fill="#111" >0.2</text>
<text x="238.60" y="449.16" font-size="5.6" text-anchor="end" font-weight="bold" fill="#111" >0</text>
<text x="241.20" y="458.51" font-size="6.6" text-anchor="middle" font-weight="bold" fill="#111" >Day</text>
<text x="252.80" y="458.58" font-size="6.8" text-anchor="middle" font-weight="bold" fill="#111" >0</text>
<text x="274.90" y="458.58" font-size="6.8" text-anchor="middle" font-weight="bold" fill="#111" >1</text>
<text x="297.00" y="458.58" font-size="6.8" text-anchor="middle" font-weight="bold" fill="#111" >2</text>
<text x="319.20" y="458.58" font-size="6.8" text-anchor="middle" font-weight="bold" fill="#111" >3</text>
<text x="341.50" y="458.58" font-size="6.8" text-anchor="middle" font-weight="bold" fill="#111" >4</text>
<text x="363.80" y="458.58" font-size="6.8" text-anchor="middle" font-weight="bold" fill="#111" >5</text>
<rect x="241.20" y="339.50" width="133.30" height="108.50" fill="none" stroke="#808080" stroke-width="1.3"/>
<line x1="252.80" y1="425.90" x2="252.80" y2="435.00" stroke="#555" stroke-width="0.9"/>
<line x1="250.70" y1="425.90" x2="254.90" y2="425.90" stroke="#555" stroke-width="1.3"/>
<line x1="250.70" y1="435.00" x2="254.90" y2="435.00" stroke="#555" stroke-width="1.3"/>
<line x1="274.90" y1="380.00" x2="274.90" y2="394.10" stroke="#555" stroke-width="0.9"/>
<line x1="272.80" y1="380.00" x2="277.00" y2="380.00" stroke="#555" stroke-width="1.3"/>
<line x1="272.80" y1="394.10" x2="277.00" y2="394.10" stroke="#555" stroke-width="1.3"/>
<line x1="297.00" y1="369.50" x2="297.00" y2="385.00" stroke="#555" stroke-width="0.9"/>
<line x1="294.90" y1="369.50" x2="299.10" y2="369.50" stroke="#555" stroke-width="1.3"/>
<line x1="294.90" y1="385.00" x2="299.10" y2="385.00" stroke="#555" stroke-width="1.3"/>
<line x1="319.20" y1="359.20" x2="319.20" y2="378.20" stroke="#555" stroke-width="0.9"/>
<line x1="317.10" y1="359.20" x2="321.30" y2="359.20" stroke="#555" stroke-width="1.3"/>
<line x1="317.10" y1="378.20" x2="321.30" y2="378.20" stroke="#555" stroke-width="1.3"/>
<line x1="341.50" y1="356.30" x2="341.50" y2="378.20" stroke="#555" stroke-width="0.9"/>
<line x1="339.40" y1="356.30" x2="343.60" y2="356.30" stroke="#555" stroke-width="1.3"/>
<line x1="339.40" y1="378.20" x2="343.60" y2="378.20" stroke="#555" stroke-width="1.3"/>
<line x1="363.80" y1="353.40" x2="363.80" y2="375.90" stroke="#555" stroke-width="0.9"/>
<line x1="361.70" y1="353.40" x2="365.90" y2="353.40" stroke="#555" stroke-width="1.3"/>
<line x1="361.70" y1="375.90" x2="365.90" y2="375.90" stroke="#555" stroke-width="1.3"/>
<line x1="252.80" y1="423.60" x2="252.80" y2="438.00" stroke="#555" stroke-width="0.9"/>
<line x1="250.70" y1="423.60" x2="254.90" y2="423.60" stroke="#555" stroke-width="1.3"/>
<line x1="250.70" y1="438.00" x2="254.90" y2="438.00" stroke="#555" stroke-width="1.3"/>
<line x1="274.90" y1="422.50" x2="274.90" y2="431.60" stroke="#555" stroke-width="0.9"/>
<line x1="272.80" y1="422.50" x2="277.00" y2="422.50" stroke="#555" stroke-width="1.3"/>
<line x1="272.80" y1="431.60" x2="277.00" y2="431.60" stroke="#555" stroke-width="1.3"/>
<line x1="297.00" y1="420.90" x2="297.00" y2="435.70" stroke="#555" stroke-width="0.9"/>
<line x1="294.90" y1="420.90" x2="299.10" y2="420.90" stroke="#555" stroke-width="1.3"/>
<line x1="294.90" y1="435.70" x2="299.10" y2="435.70" stroke="#555" stroke-width="1.3"/>
<line x1="319.20" y1="430.80" x2="319.20" y2="437.50" stroke="#555" stroke-width="0.9"/>
<line x1="317.10" y1="430.80" x2="321.30" y2="430.80" stroke="#555" stroke-width="1.3"/>
<line x1="317.10" y1="437.50" x2="321.30" y2="437.50" stroke="#555" stroke-width="1.3"/>
<line x1="341.50" y1="425.00" x2="341.50" y2="434.30" stroke="#555" stroke-width="0.9"/>
<line x1="339.40" y1="425.00" x2="343.60" y2="425.00" stroke="#555" stroke-width="1.3"/>
<line x1="339.40" y1="434.30" x2="343.60" y2="434.30" stroke="#555" stroke-width="1.3"/>
<line x1="363.80" y1="425.00" x2="363.80" y2="433.20" stroke="#555" stroke-width="0.9"/>
<line x1="361.70" y1="425.00" x2="365.90" y2="425.00" stroke="#555" stroke-width="1.3"/>
<line x1="361.70" y1="433.20" x2="365.90" y2="433.20" stroke="#555" stroke-width="1.3"/>
<polyline points="252.80,430.50 274.90,387.40 297.00,377.00 319.20,369.00 341.50,367.20 363.80,364.40" fill="none" stroke="#111" stroke-width="1.5"/>
<polyline points="252.80,432.00 274.90,427.40 297.00,428.00 319.20,434.20 341.50,430.00 363.80,429.20" fill="none" stroke="#111" stroke-width="1.5"/>
<path d="M252.80,428.60L254.70,430.50L252.80,432.40L250.90,430.50Z" fill="#111"/>
<path d="M274.90,385.50L276.80,387.40L274.90,389.30L273.00,387.40Z" fill="#111"/>
<path d="M297.00,375.10L298.90,377.00L297.00,378.90L295.10,377.00Z" fill="#111"/>
<path d="M319.20,367.10L321.10,369.00L319.20,370.90L317.30,369.00Z" fill="#111"/>
<path d="M341.50,365.30L343.40,367.20L341.50,369.10L339.60,367.20Z" fill="#111"/>
<path d="M363.80,362.50L365.70,364.40L363.80,366.30L361.90,364.40Z" fill="#111"/>
<rect x="250.40" y="429.60" width="4.80" height="4.80" fill="#111" stroke="none" stroke-width="0"/>
<rect x="272.50" y="425.00" width="4.80" height="4.80" fill="#111" stroke="none" stroke-width="0"/>
<rect x="294.60" y="425.60" width="4.80" height="4.80" fill="#111" stroke="none" stroke-width="0"/>
<rect x="316.80" y="431.80" width="4.80" height="4.80" fill="#111" stroke="none" stroke-width="0"/>
<rect x="339.10" y="427.60" width="4.80" height="4.80" fill="#111" stroke="none" stroke-width="0"/>
<rect x="361.40" y="426.80" width="4.80" height="4.80" fill="#111" stroke="none" stroke-width="0"/>
<line x1="248.20" y1="348.80" x2="266.30" y2="348.80" stroke="#111" stroke-width="1.5"/>
<path d="M257.50,347.20L259.10,348.80L257.50,350.40L255.90,348.80Z" fill="#111"/>
<line x1="248.20" y1="355.90" x2="266.30" y2="355.90" stroke="#111" stroke-width="1.5"/>
<circle cx="257.5" cy="355.9" r="2.1" fill="#111"/>
<text x="273.30" y="349.75" font-size="7.0" text-anchor="start" font-weight="bold" fill="#111" >Aza</text>
<text x="273.30" y="358.95" font-size="7.0" text-anchor="start" font-weight="bold" fill="#111" >vehicle</text>
<text x="395.50" y="342.45" font-size="11.0" text-anchor="middle" font-weight="bold" fill="#111" >D</text>
<text x="0" y="0" font-size="6.3" font-weight="bold" fill="#111" text-anchor="middle" transform="translate(401.4,396.2) rotate(-90)">Relative Luciferase Activity</text>
<text x="414.60" y="338.53" font-size="5.8" text-anchor="end" font-weight="bold" fill="#111" >2.5</text>
<text x="414.60" y="359.63" font-size="5.8" text-anchor="end" font-weight="bold" fill="#111" >2.0</text>
<text x="414.60" y="383.03" font-size="5.8" text-anchor="end" font-weight="bold" fill="#111" >1.5</text>
<text x="414.60" y="405.53" font-size="5.8" text-anchor="end" font-weight="bold" fill="#111" >1.0</text>
<text x="414.60" y="429.53" font-size="5.8" text-anchor="end" font-weight="bold" fill="#111" >0.5</text>
<text x="414.60" y="450.53" font-size="5.8" text-anchor="end" font-weight="bold" fill="#111" >0</text>
<line x1="436.50" y1="365.30" x2="436.50" y2="353.30" stroke="#333" stroke-width="0.9"/>
<line x1="433.90" y1="353.30" x2="439.10" y2="353.30" stroke="#333" stroke-width="0.9"/>
<line x1="451.20" y1="431.00" x2="451.20" y2="425.70" stroke="#333" stroke-width="0.9"/>
<line x1="448.60" y1="425.70" x2="453.80" y2="425.70" stroke="#333" stroke-width="0.9"/>
<line x1="480.80" y1="445.10" x2="480.80" y2="443.20" stroke="#333" stroke-width="0.9"/>
<line x1="478.20" y1="443.20" x2="483.40" y2="443.20" stroke="#333" stroke-width="0.9"/>
<line x1="496.50" y1="446.20" x2="496.50" y2="443.80" stroke="#333" stroke-width="0.9"/>
<line x1="493.90" y1="443.80" x2="499.10" y2="443.80" stroke="#333" stroke-width="0.9"/>
<rect x="428.80" y="365.30" width="15.20" height="83.70" fill="#000" stroke="none" stroke-width="0"/>
<rect x="444.00" y="431.00" width="15.20" height="18.00" fill="#fff" stroke="#222" stroke-width="0.9"/>
<rect x="473.60" y="445.10" width="15.30" height="3.90" fill="#000" stroke="none" stroke-width="0"/>
<rect x="488.90" y="446.20" width="14.90" height="2.80" fill="#fff" stroke="#222" stroke-width="0.9"/>
<text x="451.30" y="427.65" font-size="11.0" text-anchor="middle" font-weight="bold" fill="#111" >*</text>
<rect x="417.00" y="334.30" width="98.20" height="114.70" fill="none" stroke="#444" stroke-width="1.2"/>
<text x="445.90" y="460.81" font-size="6.6" text-anchor="middle" font-weight="bold" fill="#111" >-969 Luc</text>
<text x="487.70" y="460.81" font-size="6.6" text-anchor="middle" font-weight="bold" fill="#111" >0 Luc</text>
<rect x="458.20" y="346.50" width="4.00" height="3.60" fill="#000" stroke="none" stroke-width="0"/>
<rect x="458.40" y="355.30" width="3.80" height="3.60" fill="#fff" stroke="#bbb" stroke-width="0.6"/>
<text x="467.40" y="350.31" font-size="6.3" text-anchor="start" font-weight="bold" fill="#111" >Unmethylated</text>
<text x="467.40" y="359.20" font-size="6.3" text-anchor="start" font-weight="bold" fill="#111" >Methylated</text>
</svg>
</body></html>
